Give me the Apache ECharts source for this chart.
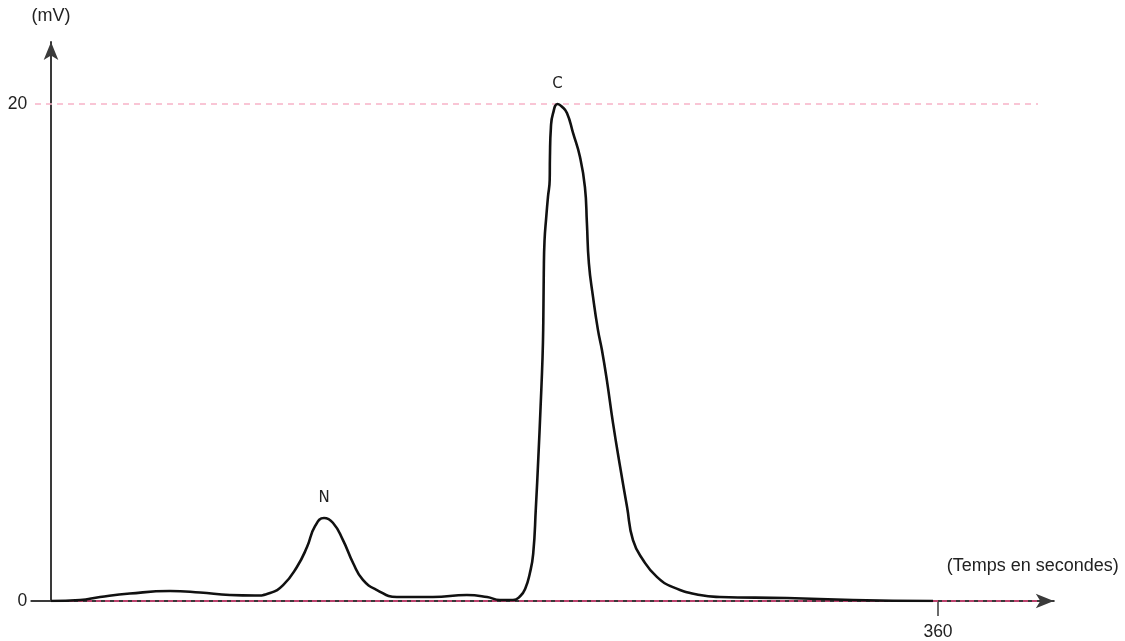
<!DOCTYPE html>
<html>
<head>
<meta charset="utf-8">
<script src="https://cdn.jsdelivr.net/npm/echarts@6/dist/echarts.min.js"></script>
<style>
html,body{margin:0;padding:0;background:#fff;}
#chart{width:1125px;height:641px;}
</style>
</head>
<body>
<div id="chart"></div>
<script>
// Time (s)
var times = [0, 11.8, 19.9, 32, 48.3, 60.5, 72.6, 82.8, 88.9, 94.2, 99.8, 103.9, 107.1, 110.8, 114.4, 118.5, 122.6, 126.6, 132.3, 140.4,
  155, 168.8, 177, 182.2, 187.5, 190.5, 192.5, 194.3, 195.7, 196.8, 197.8, 198.7, 199.5, 199.8, 200.0, 200.3, 201.0, 201.7, 202.4, 202.5,
  202.9, 203.7, 205.6, 207.3, 209.4, 211.9, 214.7, 216.7, 217.5, 218.3, 220, 222, 223.6, 225.6, 228.1, 231, 233.8, 236.2, 240.3, 245.9,
  252.4, 263.4, 271.5, 298.7, 325.5, 358];
// Signal (mV)
var values = [0, 0.04, 0.16, 0.3, 0.40, 0.34, 0.24, 0.22, 0.32, 0.64, 1.37, 2.17, 3.0, 3.34, 3.15, 2.45, 1.53, 0.85, 0.44, 0.16,
  0.16, 0.24, 0.16, 0.04, 0.04, 0.2, 0.5, 1.1, 1.9, 3.78, 5.79, 7.81, 9.82, 11.2, 13.2, 14.5, 15.45, 16.26, 16.94, 17.87,
  19.07, 19.6, 20.0, 19.9, 19.64, 18.83, 17.87, 16.66, 15.21, 13.6, 12.23, 10.9, 10.1, 8.89, 7.16, 5.39, 3.78, 2.45, 1.65, 0.97,
  0.56, 0.24, 0.16, 0.12, 0.04, 0];
// Peak labels
var peakNames = ['N', 'C'];
var peakTimes = [110.8, 205.6];
var peakValues = [3.34, 20.0];
// Axis ticks / reference levels
var xTickValues = [360];
var yTickValues = [0, 20];
var refLevels = [0, 20];

var seriesData = times.map(function (t, i) { return [t, values[i]]; });

var chart = echarts.init(document.getElementById('chart'), null, {renderer: 'canvas'});
var axisColor = '#3a3a3a';
var textFont = '"Liberation Sans", Arial, sans-serif';

chart.setOption({
  animation: false,
  backgroundColor: '#ffffff',
  grid: {left: 31.3, right: 71.2, top: 41.9, bottom: 40, containLabel: false, outerBoundsMode: 'none'},
  xAxis: {
    type: 'value',
    min: -8,
    max: 407,
    name: '(Temps en secondes)',
    nameLocation: 'end',
    nameGap: 65,
    nameTextStyle: {
      fontFamily: textFont, fontSize: 18, color: '#222',
      align: 'right', verticalAlign: 'bottom', padding: [0, 0, 26, 0]
    },
    axisLine: {
      show: true, onZero: true,
      lineStyle: {color: axisColor, width: 2},
      symbol: ['none', 'arrow'], symbolSize: [11, 18], symbolOffset: [0, 0]
    },
    axisTick: {show: true, customValues: xTickValues, length: 15, inside: false,
      lineStyle: {color: axisColor, width: 1.5}},
    axisLabel: {show: true, customValues: xTickValues, margin: 22,
      fontFamily: textFont, fontSize: 17.5, color: '#222'},
    splitLine: {show: false}
  },
  yAxis: {
    type: 'value',
    min: 0,
    max: 22.5,
    name: '(mV)',
    nameLocation: 'end',
    nameGap: 17,
    nameTextStyle: {fontFamily: textFont, fontSize: 18, color: '#222', align: 'center'},
    axisLine: {
      show: true, onZero: true,
      lineStyle: {color: axisColor, width: 2},
      symbol: ['none', 'arrow'], symbolSize: [11, 18]
    },
    axisTick: {show: false},
    axisLabel: {show: true, customValues: yTickValues, margin: 4,
      fontFamily: textFont, fontSize: 17.5, color: '#222'},
    splitLine: {show: false}
  },
  series: [{
    type: 'line',
    data: seriesData,
    showSymbol: false,
    smooth: 0.5,
    lineStyle: {color: '#111', width: 2.6},
    z: 3,
    markLine: {
      silent: true,
      symbol: ['none', 'none'],
      label: {show: false},
      z: 1,
      data: [
        [{coord: [0, refLevels[0]], lineStyle: {color: '#e8467f', width: 1.5, type: [5, 4]}},
         {coord: [400.6, refLevels[0]]}],
        [{coord: [-6.5, refLevels[1]], lineStyle: {color: '#f7b3c7', width: 1.5, type: [6, 5]}},
         {coord: [400.6, refLevels[1]]}]
      ]
    },
    markPoint: {
      silent: true,
      symbol: 'circle',
      symbolSize: 0,
      label: {
        show: true, position: 'top', distance: 12,
        fontFamily: '"DejaVu Sans", sans-serif', fontSize: 15, color: '#222',
        formatter: function (p) { return p.name; }
      },
      data: peakNames.map(function (n, i) { return {name: n, coord: [peakTimes[i], peakValues[i]]}; })
    }
  }]
});
</script>
</body>
</html>
